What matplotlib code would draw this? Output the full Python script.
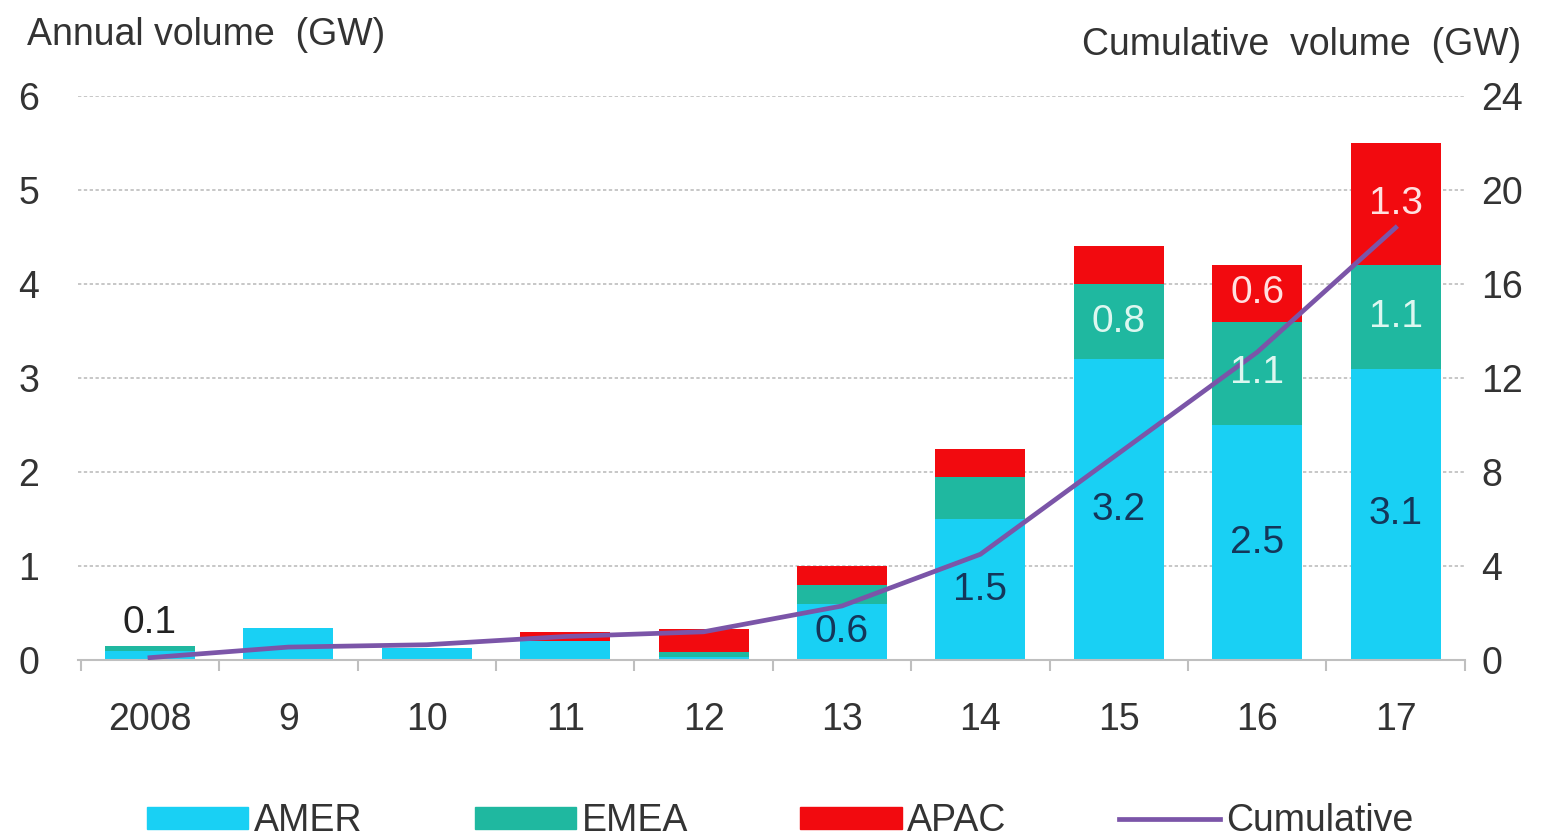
import matplotlib.pyplot as plt
import numpy as np
from matplotlib.patches import Patch
from matplotlib.lines import Line2D

plt.rcParams['font.family'] = ['Liberation Sans', 'DejaVu Sans']

years = ["2008", "9", "10", "11", "12", "13", "14", "15", "16", "17"]
amer = [0.10, 0.34, 0.13, 0.20, 0.03, 0.60, 1.50, 3.20, 2.50, 3.10]
emea = [0.05, 0.00, 0.00, 0.00, 0.06, 0.20, 0.45, 0.80, 1.10, 1.10]
apac = [0.00, 0.00, 0.00, 0.10, 0.24, 0.20, 0.30, 0.40, 0.60, 1.30]
cumulative = [0.1, 0.55, 0.65, 1.0, 1.2, 2.3, 4.5, 8.8, 13.1, 18.4]

# which segments carry a value label
amer_labels = {0: "0.1", 5: "0.6", 6: "1.5", 7: "3.2", 8: "2.5", 9: "3.1"}
emea_labels = {7: "0.8", 8: "1.1", 9: "1.1"}
apac_labels = {8: "0.6", 9: "1.3"}

c_amer = "#19D0F4"
c_emea = "#1FB8A0"
c_apac = "#F20A0F"
c_line = "#7B55A8"
c_text = "#333333"

fig = plt.figure(figsize=(15.6, 8.38), dpi=100)
ax = fig.add_axes([0.05, 0.2124, 0.889, 0.673])
ax2 = ax.twinx()

x = np.arange(len(years))
amer = np.array(amer)
emea = np.array(emea)
apac = np.array(apac)
w = 0.65

ax.bar(x, amer, w, color=c_amer, zorder=2)
ax.bar(x, emea, w, bottom=amer, color=c_emea, zorder=2)
ax.bar(x, apac, w, bottom=amer + emea, color=c_apac, zorder=2)

ax.set_xlim(-0.52, 9.47)
ax.set_ylim(0, 6)
ax.set_yticks(range(7))
ax.yaxis.grid(True, color="#bdbdbd", linestyle=(0, (2, 1.5)), linewidth=1.2, zorder=0)
ax.set_axisbelow(True)

for s in ["top", "left", "right"]:
    ax.spines[s].set_visible(False)
    ax2.spines[s].set_visible(False)
ax.spines["bottom"].set_color("#bfbfbf")
ax.spines["bottom"].set_linewidth(1.5)
ax2.spines["bottom"].set_visible(False)

ax.set_xticks(x)
ax.set_xticklabels(years)
ax.set_xticks(np.arange(-0.5, 10, 1), minor=True)
ax.tick_params(axis="x", which="major", length=0, pad=30, labelsize=27, labelcolor=c_text)
ax.tick_params(axis="x", which="minor", length=8, width=1.5, color="#bfbfbf")
ax.tick_params(axis="y", length=0, pad=28, labelsize=27, labelcolor=c_text)

ax2.set_ylim(0, 24)
ax2.set_yticks(range(0, 25, 4))
ax2.tick_params(axis="y", length=0, pad=12, labelsize=27, labelcolor=c_text)

# cumulative line on the right-hand scale, over the bars
ax2.plot(x, cumulative, color=c_line, linewidth=3.4, zorder=3)

fs = 28
for i, t in amer_labels.items():
    if i == 0:
        ax.text(x[i], amer[i] + emea[i] + 0.05, t, ha="center", va="bottom", fontsize=fs, color="#222222", zorder=5)
    else:
        ax2.text(x[i], (amer[i] / 2) * 4, t, ha="center", va="center", fontsize=fs, color="#14365A", zorder=5)
for i, t in emea_labels.items():
    ax2.text(x[i], (amer[i] + emea[i] / 2) * 4, t, ha="center", va="center", fontsize=fs, color="#DDF7F0", zorder=5)
for i, t in apac_labels.items():
    ax2.text(x[i], (amer[i] + emea[i] + apac[i] / 2) * 4, t, ha="center", va="center", fontsize=fs, color="#FFE0E0", zorder=5)

fig.text(0.0173, 0.958, "Annual volume  (GW)", fontsize=27, color=c_text, ha="left", va="center")
fig.text(0.975, 0.946, "Cumulative  volume  (GW)", fontsize=27, color=c_text, ha="right", va="center")

handles = [
    Patch(color=c_amer, label="AMER"),
    Patch(color=c_emea, label="EMEA"),
    Patch(color=c_apac, label="APAC"),
    Line2D([0], [0], color=c_line, linewidth=3.4, label="Cumulative"),
]
leg = fig.legend(handles=handles, loc="center", bbox_to_anchor=(0.5, 0.02), ncol=4,
                 frameon=False, fontsize=27, handlelength=2.7, handleheight=0.55,
                 handletextpad=0.15, columnspacing=3.0)
for t in leg.get_texts():
    t.set_color(c_text)

fig.savefig("out.png", dpi=100)
